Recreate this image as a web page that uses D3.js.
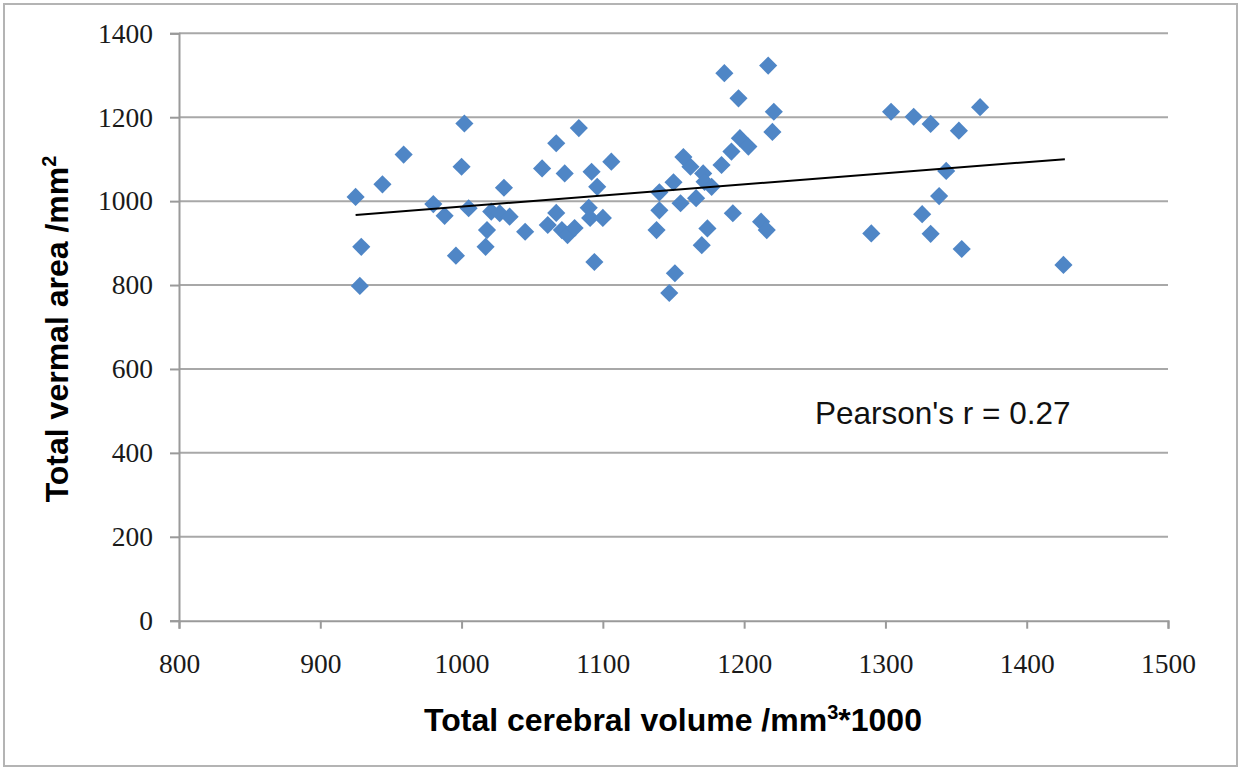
<!DOCTYPE html>
<html>
<head>
  <title>Vermal area vs cerebral volume</title>
  <script src="https://d3js.org/d3.v7.min.js"></script>
  <style>
    body { margin: 0; background: #fff; }
    .tick-label { font-family: "Liberation Serif", serif; font-size: 27.5px; fill: #1a1a1a; }
    .axis-title { font-family: "Liberation Sans", Arial, sans-serif; font-weight: bold; font-size: 32px; fill: #000; }
    .note { font-family: "Liberation Sans", Arial, sans-serif; font-size: 31.5px; fill: #111; }
  </style>
</head>
<body>
  <svg id="chart"></svg>

  <script>
    // Total cerebral volume (mm3*1000)
    const volume = [
      925, 929, 928, 944, 959, 980, 988, 996, 1000, 1002,
      1005, 1018, 1017, 1021, 1030, 1027, 1034, 1045, 1057, 1061,
      1067, 1071, 1075, 1080, 1067, 1073, 1083, 1092, 1106, 1096,
      1090, 1091, 1100, 1094, 1157, 1150, 1140, 1155, 1140, 1138,
      1151, 1147, 1162, 1171, 1172, 1177, 1166, 1192, 1212, 1216,
      1174, 1170, 1184, 1191, 1197, 1203, 1186, 1217, 1196, 1221,
      1220, 1290, 1304, 1320, 1332, 1352, 1367, 1343, 1338, 1326,
      1332, 1354, 1426
    ];
    // Total vermal area (mm2)
    const vermal = [
      1010, 891, 798, 1040, 1111, 993, 965, 870, 1082, 1185,
      983, 931, 891, 975, 1032, 971, 963, 927, 1078, 943,
      972, 931, 919, 936, 1138, 1066, 1174, 1070, 1094, 1034,
      984, 960, 960, 855, 1105, 1045, 1021, 995, 978, 931,
      828, 781, 1082, 1066, 1046, 1034, 1007, 971, 951, 931,
      935, 895, 1086, 1118, 1150, 1130, 1305, 1323, 1245, 1213,
      1165, 923, 1213, 1201, 1184, 1168, 1224, 1072, 1012, 969,
      922, 886, 848
    ];
    // fitted trend line (start and end)
    const trendX = [925, 1427];
    const trendY = [967, 1100];

    const xTicks = [800, 900, 1000, 1100, 1200, 1300, 1400, 1500];
    const yTicks = [0, 200, 400, 600, 800, 1000, 1200, 1400];

    const width = 1247, height = 768;
    const plot = { left: 179, right: 1168, top: 33.3, bottom: 620.7 };

    const svg = d3.select("#chart")
      .attr("width", width)
      .attr("height", height);

    // outer frame
    svg.append("rect")
      .attr("x", 4).attr("y", 4)
      .attr("width", 1233).attr("height", 762)
      .attr("fill", "#fff")
      .attr("stroke", "#b4b4b4")
      .attr("stroke-width", 2);

    const x = d3.scaleLinear().domain([800, 1500]).range([plot.left, plot.right]);
    const y = d3.scaleLinear().domain([0, 1400]).range([plot.bottom, plot.top]);

    // horizontal gridlines
    svg.append("g")
      .selectAll("line")
      .data(yTicks.filter(d => d > 0))
      .enter()
      .append("line")
      .attr("x1", plot.left).attr("x2", plot.right)
      .attr("y1", d => y(d)).attr("y2", d => y(d))
      .attr("stroke", "#a8a8a8")
      .attr("stroke-width", 2);

    // y axis
    const yAxis = svg.append("g")
      .attr("transform", `translate(${plot.left},0)`)
      .call(d3.axisLeft(y).tickValues(yTicks).tickFormat(d3.format("d")).tickSize(9).tickPadding(17));
    yAxis.select(".domain").attr("stroke", "#9a9a9a").attr("stroke-width", 2);
    yAxis.selectAll(".tick line").attr("stroke", "#9a9a9a").attr("stroke-width", 2);
    yAxis.selectAll(".tick text").attr("class", "tick-label").attr("font-family", null).attr("font-size", null);

    // x axis
    const xAxis = svg.append("g")
      .attr("transform", `translate(0,${plot.bottom})`)
      .call(d3.axisBottom(x).tickValues(xTicks).tickFormat(d3.format("d")).tickSize(8).tickPadding(25));
    xAxis.select(".domain").attr("stroke", "#9a9a9a").attr("stroke-width", 2);
    xAxis.selectAll(".tick line").attr("stroke", "#9a9a9a").attr("stroke-width", 2);
    xAxis.selectAll(".tick text").attr("class", "tick-label").attr("font-family", null).attr("font-size", null);

    // points
    const points = volume.map((v, i) => ({ v: v, a: vermal[i] }));
    const diamond = d3.symbol().type(d3.symbolDiamond2).size(210);
    svg.append("g")
      .selectAll("path")
      .data(points)
      .enter()
      .append("path")
      .attr("d", diamond)
      .attr("transform", d => `translate(${x(d.v)},${y(d.a)})`)
      .attr("fill", "#4f86c6");

    // trend line
    svg.append("path")
      .datum(trendX.map((v, i) => [v, trendY[i]]))
      .attr("d", d3.line().x(d => x(d[0])).y(d => y(d[1])))
      .attr("fill", "none")
      .attr("stroke", "#000")
      .attr("stroke-width", 2);

    // annotation
    svg.append("text")
      .attr("class", "note")
      .attr("x", 815).attr("y", 424)
      .text("Pearson's r = 0.27");

    // axis titles
    const xt = svg.append("text")
      .attr("class", "axis-title")
      .attr("x", 673).attr("y", 731)
      .attr("text-anchor", "middle");
    xt.append("tspan").text("Total cerebral volume /mm");
    xt.append("tspan").attr("font-size", "20px").attr("dy", -12).text("3");
    xt.append("tspan").attr("dy", 12).text("*1000");

    const yt = svg.append("text")
      .attr("class", "axis-title")
      .attr("transform", "translate(68,329) rotate(-90)")
      .attr("text-anchor", "middle");
    yt.append("tspan").text("Total vermal area /mm");
    yt.append("tspan").attr("font-size", "20px").attr("dy", -12).text("2");
  </script>
</body>
</html>
